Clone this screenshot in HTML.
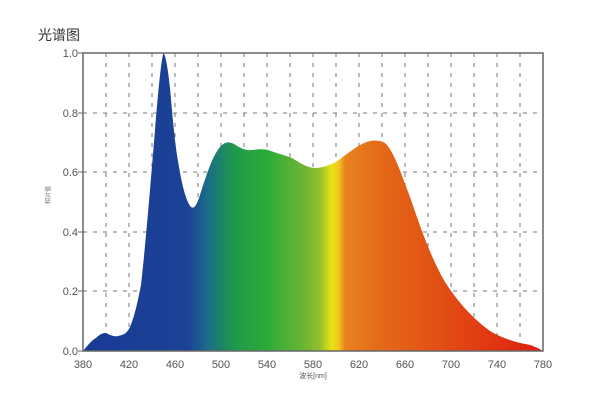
<!DOCTYPE html>
<html><head><meta charset="utf-8"><style>
html,body{margin:0;padding:0;background:#fff;}
svg{display:block;}
text{font-family:"Liberation Sans","Noto Sans CJK SC",sans-serif;}
</style></head><body>
<svg width="600" height="400" viewBox="0 0 600 400" xmlns="http://www.w3.org/2000/svg">
<defs>
<linearGradient id="g" gradientUnits="userSpaceOnUse" x1="83" y1="0" x2="543" y2="0">
<stop offset="0" stop-color="#1a3a94"/>
<stop offset="0.23" stop-color="#1b4396"/>
<stop offset="0.27" stop-color="#1a6c88"/>
<stop offset="0.33" stop-color="#1f9a4a"/>
<stop offset="0.40" stop-color="#2cab38"/>
<stop offset="0.48" stop-color="#6cb534"/>
<stop offset="0.515" stop-color="#94bf2c"/>
<stop offset="0.54" stop-color="#e4e414"/>
<stop offset="0.555" stop-color="#f2c820"/>
<stop offset="0.57" stop-color="#e8821e"/>
<stop offset="0.65" stop-color="#e46818"/>
<stop offset="0.78" stop-color="#e24e14"/>
<stop offset="1" stop-color="#e01e10"/>
</linearGradient>
</defs>
<text x="38" y="40" font-size="14" fill="#333">光谱图</text>
<g stroke="#777" stroke-width="1" stroke-dasharray="4,6">
<line x1="106" y1="53" x2="106" y2="351"/><line x1="129" y1="53" x2="129" y2="351"/>
<line x1="152" y1="53" x2="152" y2="351"/><line x1="175" y1="53" x2="175" y2="351"/>
<line x1="198" y1="53" x2="198" y2="351"/><line x1="221" y1="53" x2="221" y2="351"/>
<line x1="244" y1="53" x2="244" y2="351"/><line x1="267" y1="53" x2="267" y2="351"/>
<line x1="290" y1="53" x2="290" y2="351"/><line x1="313" y1="53" x2="313" y2="351"/>
<line x1="336" y1="53" x2="336" y2="351"/><line x1="359" y1="53" x2="359" y2="351"/>
<line x1="382" y1="53" x2="382" y2="351"/><line x1="405" y1="53" x2="405" y2="351"/>
<line x1="428" y1="53" x2="428" y2="351"/><line x1="451" y1="53" x2="451" y2="351"/>
<line x1="474" y1="53" x2="474" y2="351"/><line x1="497" y1="53" x2="497" y2="351"/>
<line x1="520" y1="53" x2="520" y2="351"/>
<line x1="83" y1="113" x2="543" y2="113"/><line x1="83" y1="172" x2="543" y2="172"/>
<line x1="83" y1="232" x2="543" y2="232"/><line x1="83" y1="291" x2="543" y2="291"/>
</g>
<path fill="url(#g)" d="M83,351 C88,345 92,340 96,338 C100,334 103,333 106,333 C110,335 114,337 118,336 C124,335 127,333 130,327 C135,315 138,300 141,285 C146,240 150,190 155,130 C158,95 161,60 163.5,53 C166,56 168,70 170,88 C172,110 174,135 177,155 C181,180 185,200 191,207 C194,209 196,206 199,198 C205,180 212,155 221,146 C226,141 230,142 234,144 C240,148 246,151 252,150 C258,149 263,149 268,150 C276,153 284,155 292,158 C300,163 306,167 314,168 C322,168 328,166 336,162 C346,155 354,148 362,144 C370,140 378,139 385,143 C393,150 400,170 410,197 C420,226 430,256 445,282 C458,302 472,318 490,331 C505,340 520,343 530,345 C536,347 540,349 543,351 Z"/>
<rect x="83" y="53" width="460" height="298" fill="none" stroke="#666" stroke-width="1.5"/>
<g font-size="11" fill="#555" text-anchor="end">
<text x="78" y="57">1.0</text><text x="78" y="117">0.8</text><text x="78" y="176">0.6</text>
<text x="78" y="236">0.4</text><text x="78" y="295">0.2</text><text x="78" y="355">0.0</text>
</g>
<g stroke="#666"><line x1="78" y1="53" x2="83" y2="53"/><line x1="78" y1="113" x2="83" y2="113"/><line x1="78" y1="172" x2="83" y2="172"/><line x1="78" y1="232" x2="83" y2="232"/><line x1="78" y1="291" x2="83" y2="291"/><line x1="78" y1="351" x2="83" y2="351"/></g>
<g font-size="11" fill="#555" text-anchor="middle">
<text x="83" y="368">380</text><text x="129" y="368">420</text><text x="175" y="368">460</text>
<text x="221" y="368">500</text><text x="267" y="368">540</text><text x="313" y="368">580</text>
<text x="359" y="368">620</text><text x="405" y="368">660</text><text x="451" y="368">700</text>
<text x="497" y="368">740</text><text x="543" y="368">780</text>
</g>
<text x="313" y="378" font-size="7" fill="#555" text-anchor="middle">波长[nm]</text>
<text x="50" y="195" font-size="6" fill="#777" transform="rotate(-90 50 195)" text-anchor="middle">相对值</text>
</svg>
</body></html>
